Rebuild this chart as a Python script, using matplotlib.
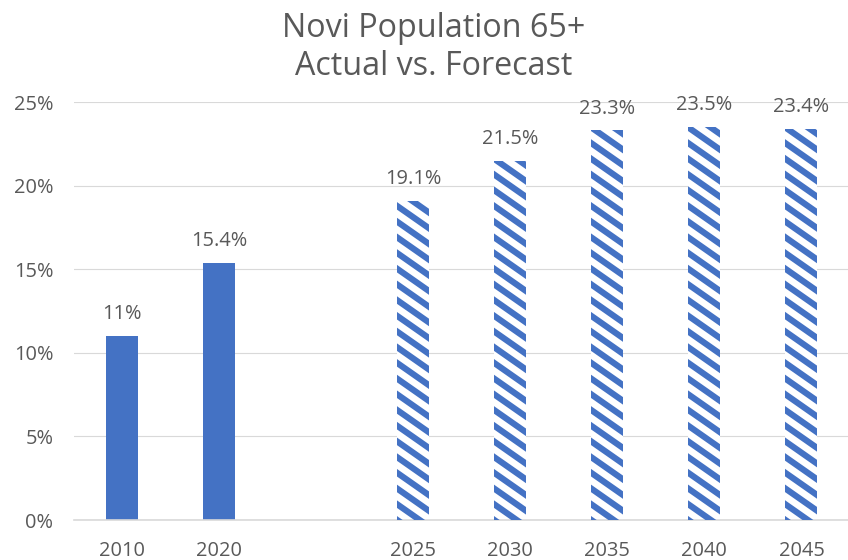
import matplotlib
matplotlib.use("Agg")
import matplotlib.pyplot as plt
from matplotlib.collections import LineCollection
from matplotlib.transforms import IdentityTransform
import numpy as np

categories = ["2010", "2020", "", "2025", "2030", "2035", "2040", "2045"]
values = [11.0, 15.4, None, 19.1, 21.5, 23.3, 23.5, 23.4]
labels = ["11%", "15.4%", "", "19.1%", "21.5%", "23.3%", "23.5%", "23.4%"]
forecast = [False, False, False, True, True, True, True, True]
yticks = [0, 5, 10, 15, 20, 25]
ytick_labels = ["0%", "5%", "10%", "15%", "20%", "25%"]

BLUE = "#4472C4"
GRAY = "#595959"
GRID = "#D9D9D9"
FONT = ["Open Sans", "DejaVu Sans"]

plt.rcParams["font.family"] = FONT

DPI = 80
W, H = 848, 560
fig = plt.figure(figsize=(W / DPI, H / DPI), dpi=DPI)
ax = fig.add_axes([73.5 / W, 1 - 520 / H, (850 - 73.5) / W, (520 - 102) / H])

x = np.arange(len(categories))
width = 0.33
ax.set_xlim(-0.5, len(categories) - 0.5)
ax.set_ylim(0, 25)

# stripe pattern parameters (pixels)
STRIPE_PERIOD = 15.7
STRIPE_SLOPE = 0.7
STRIPE_LW_PT = 6.2 * 72 / DPI

for xi, v, lab, fc in zip(x, values, labels, forecast):
    if v is None:
        continue
    if fc:
        bars = ax.bar(xi, v, width=width, facecolor="white", linewidth=0, zorder=3)
        patch = bars[0]
        (px0, py0), (px1, py1) = ax.transData.transform([(xi - width / 2, 0), (xi + width / 2, v)])
        segs = []
        c = py0 - 2 * STRIPE_PERIOD
        cmax = py1 + STRIPE_SLOPE * (px1 - px0) + 2 * STRIPE_PERIOD
        while c < cmax:
            segs.append([(px0 - 5, c + STRIPE_SLOPE * 5), (px1 + 5, c - STRIPE_SLOPE * (px1 - px0 + 5))])
            c += STRIPE_PERIOD
        lc = LineCollection(segs, colors=BLUE, linewidths=STRIPE_LW_PT,
                            capstyle="butt", transform=IdentityTransform(), zorder=3.5)
        fig.add_artist(lc)
        lc.set_clip_path(patch)
    else:
        ax.bar(xi, v, width=width, color=BLUE, linewidth=0, zorder=3)
    ax.annotate(lab, (xi, v), xytext=(0, 15), textcoords="offset points",
                ha="center", va="baseline", fontsize=18, color=GRAY, zorder=4)

ax.set_xticks(x)
ax.set_xticklabels(categories)
ax.set_yticks(yticks)
ax.set_yticklabels(ytick_labels)
ax.tick_params(axis="both", length=0, labelsize=18, labelcolor=GRAY)
ax.tick_params(axis="x", pad=19)
ax.tick_params(axis="y", pad=18)
ax.yaxis.grid(True, color=GRID, linewidth=1.0, zorder=0)
ax.set_axisbelow(True)
for s in ["top", "right", "left"]:
    ax.spines[s].set_visible(False)
ax.spines["bottom"].set_color(GRID)
ax.spines["bottom"].set_linewidth(1.5)
ax.spines["bottom"].set_zorder(5)

fig.text(434 / W, 1 - 37 / H, "Novi Population 65+",
         ha="center", va="baseline", fontsize=29, color=GRAY)
fig.text(434 / W, 1 - 75 / H, "Actual vs. Forecast",
         ha="center", va="baseline", fontsize=29, color=GRAY)

fig.savefig("out.png", dpi=DPI)
